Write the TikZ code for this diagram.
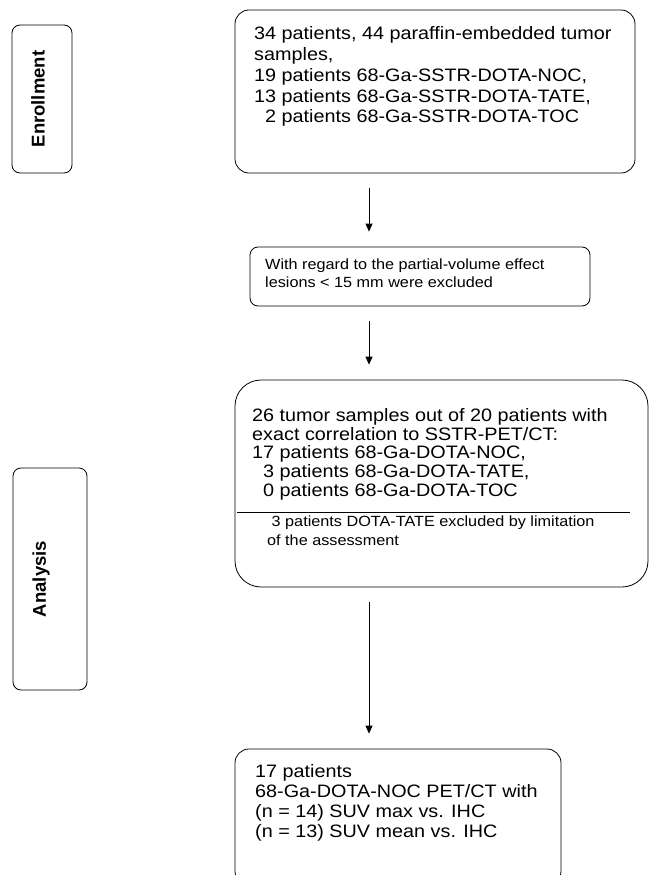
\documentclass[tikz,border=0pt]{standalone}
\usepackage{fontspec}
\setmainfont{Liberation Sans}[FakeStretch=1.1]
\newfontfamily\sidefont{Liberation Sans}
\usetikzlibrary{arrows.meta, positioning}

\begin{document}
\begin{tikzpicture}[x=1pt, y=-1pt,
    box/.style={draw, line width=0.8pt, rounded corners=#1, inner sep=0pt},
    box/.default=14pt,
    phase/.style={rotate=90, inner sep=0pt, font=\sidefont\bfseries\fontsize{18.5}{22}\selectfont},
    txt/.style={anchor=north west, align=left, inner sep=0pt, font=\fontsize{18}{#1}\selectfont},
    txt/.default=19.5,
    smalltxt/.style={anchor=north west, align=left, inner sep=0pt, font=\fontsize{14.75}{18.5}\selectfont},
    flow/.style={-{Triangle[length=8pt, width=7pt]}, line width=0.8pt, shorten <=15pt, shorten >=15pt}]
    \useasboundingbox (0,0) rectangle (649,875);

    % Phases
    \node[box=8pt, minimum width=60pt, minimum height=148pt] (enroll) at (42,99) {};
    \node[phase] (enrolltxt) at ([xshift=-4pt]enroll.center) {Enrollment};
    \node[box=8pt, minimum width=74pt, minimum height=222pt] (analysis) at (50,579) {};
    \node[phase] (analysistxt) at ([xshift=-9pt]analysis.center) {Analysis};

    % Boxes
    \node[box, minimum width=400pt, minimum height=163pt] (samples) at (435,91.5) {};
    \node[box=8pt, minimum width=340pt, minimum height=59pt] (volume) at (420,276.5) {};
    \node[box=26pt, minimum width=413pt, minimum height=207pt] (correl) at (441.5,483.5) {};
    \node[box, minimum width=326pt, minimum height=136pt] (suv) at (398,817) {};

    % Texts
    \node[txt=20.8] (samplestxt) at (254,26.5) {34 patients, 44 paraffin-embedded tumor\\samples,\\19 patients 68-Ga-SSTR-DOTA-NOC,\\13 patients 68-Ga-SSTR-DOTA-TATE,\\\phantom{1}2 patients 68-Ga-SSTR-DOTA-TOC};
    \node[smalltxt] (volumetxt) at (265,258.5) {With regard to the partial-volume effect\\lesions < 15 mm were excluded};
    \node[txt=18.8] (correltxt) at (252,408) {26 tumor samples out of 20 patients with\\exact correlation to SSTR-PET/CT:\\17 patients 68-Ga-DOTA-NOC,\\\phantom{1}3 patients 68-Ga-DOTA-TATE,\\\phantom{1}0 patients 68-Ga-DOTA-TOC};
    \draw[line width=0.8pt] (237,512) -- (630,512);
    \node[smalltxt] (excltxt) at (267,516) {\ 3 patients DOTA-TATE excluded by limitation\\of the assessment};
    \node[txt=20] (suvtxt) at (255,764) {17 patients\\68-Ga-DOTA-NOC PET/CT with\\(n = 14) SUV max vs. IHC\\(n = 13) SUV mean vs. IHC};

    % Arrows
    \coordinate (ax) at (369,0);
    \draw[flow] (samples.south -| ax) -- (volume.north -| ax);
    \draw[flow] (volume.south -| ax) -- (correl.north -| ax);
    \draw[flow] (correl.south -| ax) -- (suv.north -| ax);
\end{tikzpicture}
\end{document}
